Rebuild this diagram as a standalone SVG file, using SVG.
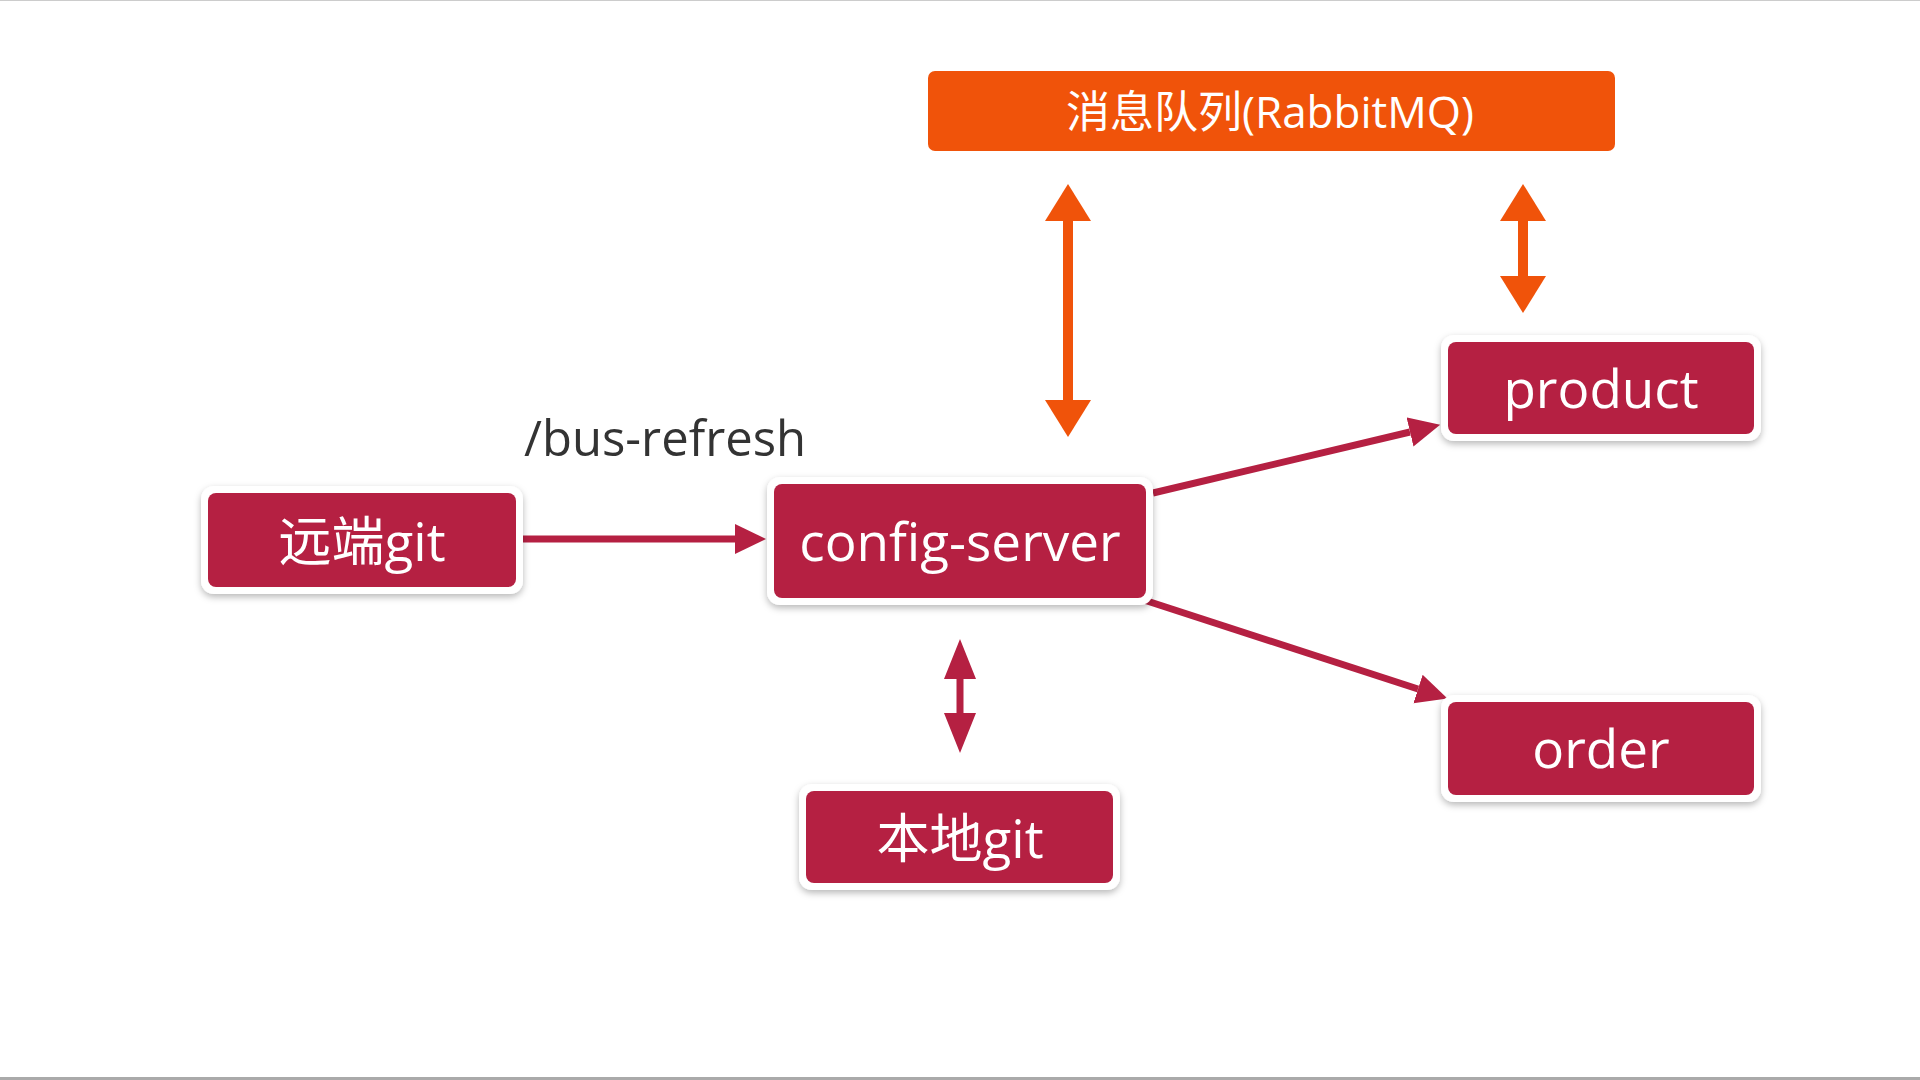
<svg xmlns="http://www.w3.org/2000/svg" width="1920" height="1080" viewBox="0 0 1920 1080">
<style>
  .frame { fill: #ffffff; filter: url(#shadow); }
  .box { fill: #B52042; }
  .mq { fill: #F0530A; }
  .label { font-family: "Open Sans", "Noto Sans", "Noto Sans CJK SC", sans-serif; fill: #ffffff; text-anchor: middle; dominant-baseline: central; }
  .node { font-size: 53px; }
  .mqt { font-size: 44px; }
  .caption { font-family: "Open Sans", "Noto Sans", sans-serif; font-size: 49px; fill: #333333; }
  .c-red { stroke: #B52042; stroke-width: 7; fill: none; }
  .c-org { stroke: #F0530A; stroke-width: 10; fill: none; }
</style>
<defs>
  <filter id="shadow" x="-10%" y="-20%" width="120%" height="150%">
    <feDropShadow dx="0" dy="3" stdDeviation="3.5" flood-color="#000000" flood-opacity="0.28"/>
  </filter>
  <marker id="hOrg" markerUnits="userSpaceOnUse" markerWidth="40" markerHeight="48" refX="0" refY="23" orient="auto-start-reverse">
    <path d="M0,0 L37,23 L0,46 Z" fill="#F0530A"/>
  </marker>
  <marker id="hRed" markerUnits="userSpaceOnUse" markerWidth="42" markerHeight="34" refX="0" refY="16" orient="auto-start-reverse">
    <path d="M0,0 L40,16 L0,32 Z" fill="#B52042"/>
  </marker>
  <marker id="hRedS" markerUnits="userSpaceOnUse" markerWidth="34" markerHeight="32" refX="0" refY="15" orient="auto-start-reverse">
    <path d="M0,0 L31,15 L0,30 Z" fill="#B52042"/>
  </marker>
</defs>
<rect x="0" y="0" width="1920" height="1080" fill="#ffffff"/>
<line x1="0" y1="1078.5" x2="1920" y2="1078.5" stroke="#aaaaaa" stroke-width="3"/>
<line x1="0" y1="0.5" x2="1920" y2="0.5" stroke="#cccccc" stroke-width="1"/>

<g id="connectors">
  <line class="c-red" x1="523" y1="539" x2="735" y2="539" marker-end="url(#hRedS)"/>
  <line class="c-org" x1="1068" y1="221" x2="1068" y2="400" marker-start="url(#hOrg)" marker-end="url(#hOrg)"/>
  <line class="c-org" x1="1523" y1="221" x2="1523" y2="276" marker-start="url(#hOrg)" marker-end="url(#hOrg)"/>
  <line class="c-red" x1="960" y1="679" x2="960" y2="713" marker-start="url(#hRed)" marker-end="url(#hRed)"/>
  <line class="c-red" x1="1153" y1="493" x2="1410" y2="432" marker-end="url(#hRedS)"/>
  <line class="c-red" x1="1144" y1="600" x2="1418" y2="689" marker-end="url(#hRedS)"/>
</g>

<g id="mq">
  <rect class="mq" x="928" y="71" width="687" height="80" rx="7"/>
  <text class="label mqt" x="1270" y="111">消息队列(RabbitMQ)</text>
</g>

<g id="remote-git">
  <rect class="frame" x="201" y="486" width="322" height="108" rx="13"/>
  <rect class="box" x="208" y="493" width="308" height="94" rx="8"/>
  <text class="label node" x="362" y="540">远端git</text>
</g>

<g id="config-server">
  <rect class="frame" x="767" y="477" width="386" height="128" rx="13"/>
  <rect class="box" x="774" y="484" width="372" height="114" rx="8"/>
  <text class="label node" x="960" y="540">config-server</text>
</g>

<g id="product">
  <rect class="frame" x="1441" y="335" width="320" height="106" rx="13"/>
  <rect class="box" x="1448" y="342" width="306" height="92" rx="8"/>
  <text class="label node" x="1601" y="387">product</text>
</g>

<g id="order">
  <rect class="frame" x="1441" y="695" width="320" height="107" rx="13"/>
  <rect class="box" x="1448" y="702" width="306" height="93" rx="8"/>
  <text class="label node" x="1601" y="747">order</text>
</g>

<g id="local-git">
  <rect class="frame" x="799" y="784" width="321" height="106" rx="13"/>
  <rect class="box" x="806" y="791" width="307" height="92" rx="8"/>
  <text class="label node" x="960" y="837">本地git</text>
</g>

<text id="bus-refresh" class="caption" x="524" y="456">/bus-refresh</text>
</svg>
